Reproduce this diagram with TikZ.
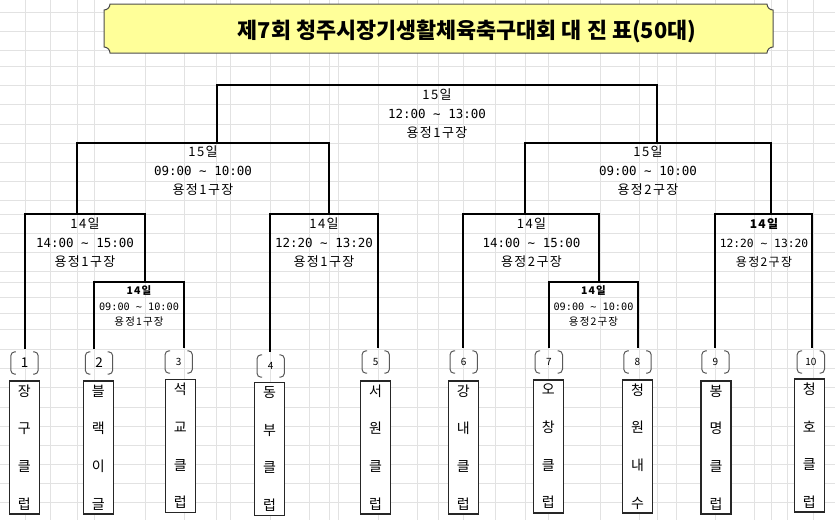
\documentclass[tikz,border=0pt]{standalone}
\usepackage{fontspec}
\setmainfont{Noto Sans CJK KR}
\newfontfamily\krsp{Noto Sans CJK KR}[LetterSpace=11]
\newfontfamily\mono{DejaVu Sans Mono}
\usetikzlibrary{calc}
\definecolor{ttl}{RGB}{255,255,153}
\definecolor{gridc}{RGB}{226,226,226}
\newcommand\numbrack[1]{%
  \draw[brk] ([xshift=5pt]#1.north west) -- (#1.north west) -- (#1.south west) -- ([xshift=5pt]#1.south west);
  \draw[brk] ([xshift=-5pt]#1.north east) -- (#1.north east) -- (#1.south east) -- ([xshift=-5pt]#1.south east);}
\begin{document}
\begin{tikzpicture}[x=1pt,y=-1pt,
  gridln/.style={draw=gridc, line width=0.9pt},
  br/.style={draw=black, line width=1.8pt, line join=miter},
  lbl/.style={align=center, inner sep=0pt, font=\krsp\fontsize{13}{19}\selectfont},
  lblsm/.style={align=center, inner sep=0pt, font=\krsp\fontsize{10.5}{15.5}\selectfont},
  team/.style={draw=black!85, line width=1.2pt, fill=white, minimum width=30pt, minimum height=133pt, inner sep=0pt, align=center, font=\fontsize{14}{37.7}\selectfont},
  numb/.style={minimum width=27pt, minimum height=22pt, inner sep=0pt, font=\fontsize{10}{11}\selectfont},
  numbig/.style={numb, font=\fontsize{13.5}{14}\selectfont},
  brk/.style={draw=black!65, line width=1pt, rounded corners=4pt}]
\useasboundingbox (0,0) rectangle (835,520);
\fill[white] (0,0) rectangle (835,520);
% grid
\foreach \x in {25,50.6,77.2,94.8,145.4,184.8,216.7,230.6,270.5,309.4,329.6,338.7,378.1,417,438.8,463.3,495.2,525,548.4,600.1,639,657.6,676.2,715.7,754.5,771.6,787,813.6}
  \draw[gridln] (\x,0) -- (\x,520);
\foreach \y in {12,31,50,66,85,104,124,143,162,181,200,214,233,252,271,282,297,313,329,349,368,387,407,426,445,464,483,502}
  \draw[gridln] (0,\y) -- (835,\y);
% title plaque
\path[draw=black!70, fill=ttl, line width=1pt]
  (110,4) -- (767,4) .. controls (767,7.3) and (769.7,10) .. (773,10)
  -- (773,47) .. controls (769.7,47) and (767,49.7) .. (767,53)
  -- (110,53) .. controls (110,49.7) and (107.3,47) .. (104,47)
  -- (104,10) .. controls (107.3,10) and (110,7.3) .. (110,4) -- cycle;
\node[inner sep=0pt, font=\fontsize{21.8}{24}\selectfont\bfseries] (title) at (467,31) {제7회 청주시장기생활체육축구대회 대 진 표(50대)};
% team boxes
\node[team] (t1) at (24.3,447.5) {장\\구\\클\\럽};
\node[team] (t2) at (98.3,447.5) {블\\랙\\이\\글};
\node[team] (t3) at (180.3,446) {석\\교\\클\\럽};
\node[team] (t4) at (269.5,449) {동\\부\\클\\럽};
\node[team] (t5) at (375.5,447.5) {서\\원\\클\\럽};
\node[team] (t6) at (463.3,447.5) {강\\내\\클\\럽};
\node[team] (t7) at (548.3,446.5) {오\\창\\클\\럽};
\node[team] (t8) at (637.5,446.5) {청\\원\\내\\수};
\node[team] (t9) at (716,447.5) {봉\\명\\클\\럽};
\node[team] (t10) at (809.3,445.5) {청\\호\\클\\럽};
% numbers
\node[numbig] (n1) at (24.5,363) {1};
\node[numbig] (n2) at (99,363) {2};
\node[numb] (n3) at (178.7,362) {3};
\node[numb] (n4) at (270.7,366) {4};
\node[numb] (n5) at (375.7,362) {5};
\node[numb] (n6) at (463.7,362) {6};
\node[numb] (n7) at (548.8,362) {7};
\node[numb] (n8) at (637.5,362) {8};
\node[numb] (n9) at (715.5,362) {9};
\node[numb] (n10) at (810.8,362) {10};
\foreach \n in {n1,n2,n3,n4,n5,n6,n7,n8,n9,n10} {\numbrack{\n}}
% bracket corners
\coordinate (fL) at (217,85);  \coordinate (fR) at (657,85);
\coordinate (s1L) at (77,143); \coordinate (s1R) at (329,143);
\coordinate (s2L) at (525,143); \coordinate (s2R) at (771,143);
\coordinate (q1L) at (25,214); \coordinate (q1R) at (145,214);
\coordinate (q2L) at (270,214); \coordinate (q2R) at (378,214);
\coordinate (q3L) at (463,214); \coordinate (q3R) at (599,214);
\coordinate (q4L) at (715,214); \coordinate (q4R) at (812,214);
\coordinate (i1L) at (94,282); \coordinate (i1R) at (184,282);
\coordinate (i2L) at (549,282); \coordinate (i2R) at (638,282);
\draw[br] (fL |- s1L) -- (fL) -- (fR) -- (fR |- s2R);
\draw[br] (s1L |- q1L) -- (s1L) -- (s1R) -- (s1R |- q2L);
\draw[br] (s2L |- q3L) -- (s2L) -- (s2R) -- (s2R |- q4L);
\draw[br] ($(q1L |- n1.north)+(0,-3)$) -- (q1L) -- (q1R) -- (q1R |- i1L);
\draw[br] ($(i1L |- n2.north)+(0,-3)$) -- (i1L) -- (i1R) -- ($(i1R |- n3.north)+(0,-3)$);
\draw[br] ($(q2L |- n4.north)+(0,-3)$) -- (q2L) -- (q2R) -- ($(q2R |- n5.north)+(0,-3)$);
\draw[br] ($(q3L |- n6.north)+(0,-3)$) -- (q3L) -- (q3R) -- (q3R |- i2L);
\draw[br] ($(i2L |- n7.north)+(0,-3)$) -- (i2L) -- (i2R) -- ($(i2R |- n8.north)+(0,-3)$);
\draw[br] ($(q4L |- n9.north)+(0,-3)$) -- (q4L) -- (q4R) -- ($(q4R |- n10.north)+(0,-3)$);
% match labels
\node[lbl] (mF) at (437,114) {15일\\{\mono\fontsize{12.5}{19}\selectfont 12:00 \textasciitilde{} 13:00}\\용정1구장};
\node[lbl] (mS1) at (203,171) {15일\\{\mono\fontsize{12.5}{19}\selectfont 09:00 \textasciitilde{} 10:00}\\용정1구장};
\node[lbl] (mS2) at (648,171) {15일\\{\mono\fontsize{12.5}{19}\selectfont 09:00 \textasciitilde{} 10:00}\\용정2구장};
\node[lbl] (mQ1) at (85,243) {14일\\{\mono\fontsize{12.5}{19}\selectfont 14:00 \textasciitilde{} 15:00}\\용정1구장};
\node[lbl] (mQ2) at (324,243) {14일\\{\mono\fontsize{12.5}{19}\selectfont 12:20 \textasciitilde{} 13:20}\\용정1구장};
\node[lbl] (mQ3) at (531.5,243) {14일\\{\mono\fontsize{12.5}{19}\selectfont 14:00 \textasciitilde{} 15:00}\\용정2구장};
\node[lbl, font=\krsp\fontsize{12}{19}\selectfont] (mQ4) at (764,243) {{\bfseries 14일}\\{\mono\fontsize{11.3}{19}\selectfont 12:20 \textasciitilde{} 13:20}\\용정2구장};
\node[lblsm] (mI1) at (139,306) {{\bfseries 14일}\\{\mono\fontsize{10.2}{15.5}\selectfont 09:00 \textasciitilde{} 10:00}\\용정1구장};
\node[lblsm] (mI2) at (593.5,306) {{\bfseries 14일}\\{\mono\fontsize{10.2}{15.5}\selectfont 09:00 \textasciitilde{} 10:00}\\용정2구장};
\end{tikzpicture}
\end{document}
